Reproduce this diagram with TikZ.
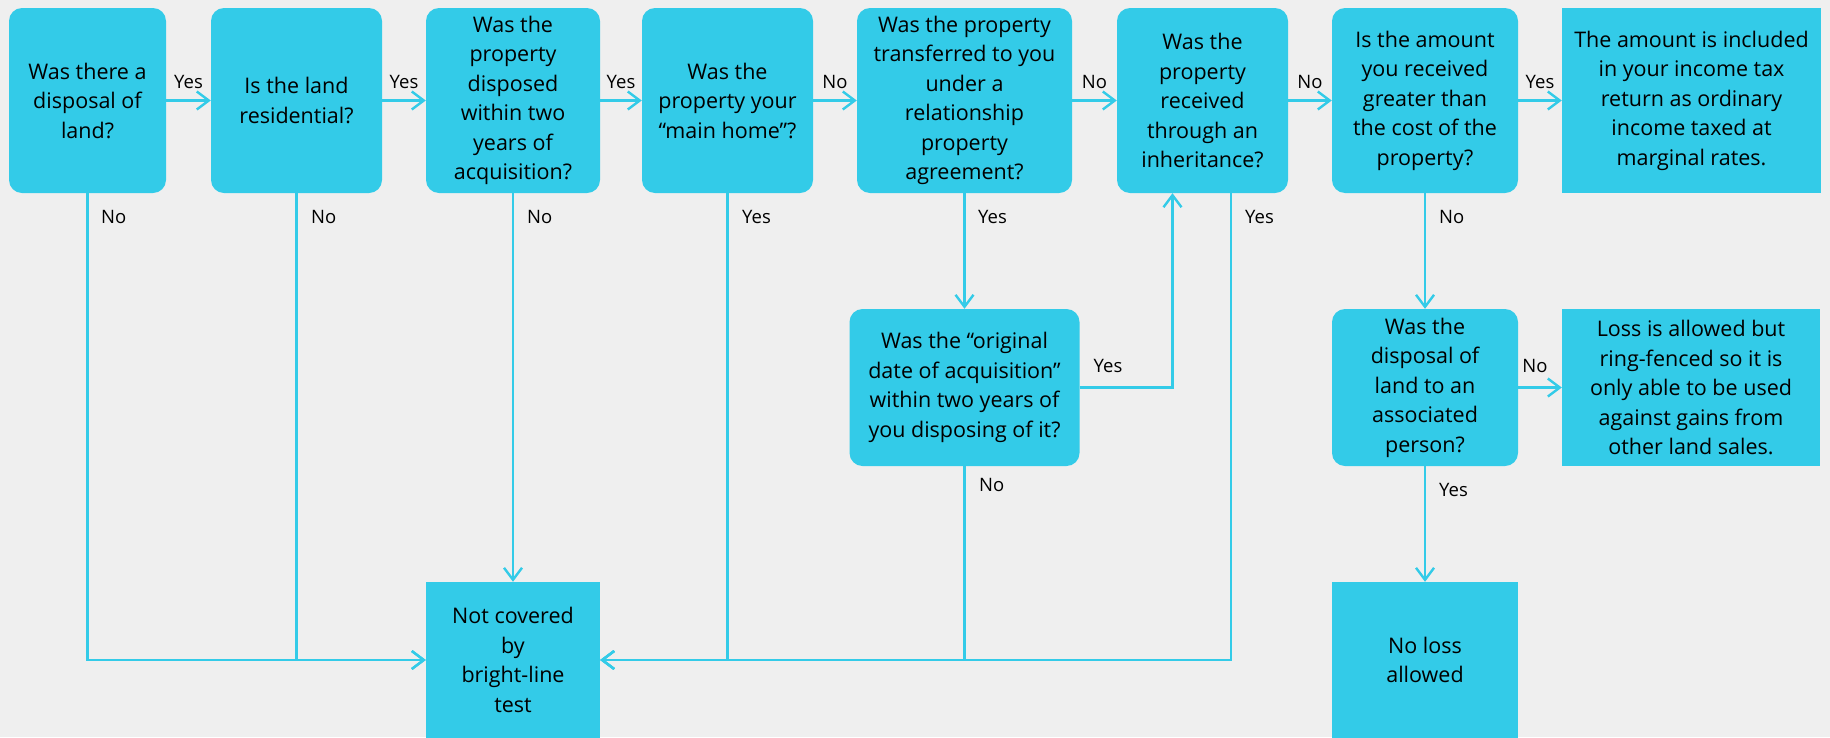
\documentclass[tikz,border=0pt]{standalone}
\usepackage{fontspec}
\setmainfont{Open Sans}
\usetikzlibrary{arrows.meta}
\definecolor{cy}{HTML}{33CBE8}
\definecolor{bg}{HTML}{EFEFEF}
\begin{document}
\begin{tikzpicture}[x=1pt,y=-1pt,
  q/.style={fill=cy, rounded corners=13pt, align=center, inner sep=0pt,
    font=\fontsize{21.5}{29.5}\selectfont},
  r/.style={fill=cy, align=center, inner sep=0pt,
    font=\fontsize{21.5}{29.5}\selectfont},
  lab/.style={font=\fontsize{18.5}{22}\selectfont, inner sep=0pt},
  ln/.style={draw=cy, line width=2.4pt},
  arr/.style={ln, -{Straight Barb[length=12pt,width=18pt,line width=2.4pt]}}]
\fill[bg] (0,0) rectangle (1830,737);
\useasboundingbox (0,0) rectangle (1830,737);

% top row
\node[q, minimum width=157pt, minimum height=185pt] (b1) at (87.5,100.5) {Was there a\\disposal of\\land?};
\node[q, minimum width=171pt, minimum height=185pt] (b2) at (296.5,100.5) {Is the land\\residential?};
\node[q, minimum width=174pt, minimum height=185pt] (b3) at (513,100.5) {Was the\\property\\disposed\\within two\\years of\\acquisition?};
\node[q, minimum width=171pt, minimum height=185pt] (b4) at (727.5,100.5) {Was the\\property your\\“main home”?};
\node[q, minimum width=215pt, minimum height=185pt] (b5) at (964.5,100.5) {Was the property\\transferred to you\\under a\\relationship\\property\\agreement?};
\node[q, minimum width=171pt, minimum height=185pt] (b6) at (1202.5,100.5) {Was the\\property\\received\\through an\\inheritance?};
\node[q, minimum width=186pt, minimum height=185pt] (b7) at (1425,100.5) {Is the amount\\you received\\greater than\\the cost of the\\property?};
\node[r, minimum width=259pt, minimum height=185pt] (b8) at (1691.5,100.5) {The amount is included\\in your income tax\\return as ordinary\\income taxed at\\marginal rates.};

% middle row
\node[q, minimum width=230pt, minimum height=157pt] (sub) at (964.5,387.5) {Was the “original\\date of acquisition”\\within two years of\\you disposing of it?};
\node[q, minimum width=186pt, minimum height=157pt] (as) at (1425,387.5) {Was the\\disposal of\\land to an\\associated\\person?};
\node[r, minimum width=258pt, minimum height=157pt] (loss) at (1691,387.5) {Loss is allowed but\\ring-fenced so it is\\only able to be used\\against gains from\\other land sales.};

% bottom row
\node[r, minimum width=174pt, minimum height=156pt] (nc) at (513,660) {Not covered\\by\\bright-line\\test};
\node[r, minimum width=186pt, minimum height=156pt] (nl) at (1425,660) {No loss\\allowed};

% horizontal chain
\draw[arr] (b1) -- (b2);
\draw[arr] (b2) -- (b3);
\draw[arr] (b3) -- (b4);
\draw[arr] (b4) -- (b5);
\draw[arr] (b5) -- (b6);
\draw[arr] (b6) -- (b7);
\draw[arr] (b7) -- (b8);
\node[lab] (y12) at (188.5,82) {Yes};
\node[lab] (y23) at (404,82) {Yes};
\node[lab] (y34) at (621,82) {Yes};
\node[lab] (n45) at (835,82) {No};
\node[lab] (n56) at (1094.5,82) {No};
\node[lab] (n67) at (1310,82) {No};
\node[lab] (y78) at (1540,82) {Yes};

% down to "not covered"
\draw[arr] (b1.south) |- (nc.west);
\draw[arr] (b2.south) |- (nc.west);
\draw[arr] (b3.south) -- (nc.north);
\draw[arr] (b4.south) |- (nc.east);
\draw[arr] (sub.south) |- (nc.east);
\coordinate (b6r) at ([xshift=28.5pt]b6.south);
\coordinate (b6l) at ([xshift=-30pt]b6.south);
\draw[arr] (b6r) |- (nc.east);
\draw[arr] (b5.south) -- (sub.north);
\draw[arr] (sub.east) -| (b6l);
\draw[arr] (b7.south) -- (as.north);
\draw[arr] (as) -- (loss);
\draw[arr] (as.south) -- (nl.north);

\node[lab, anchor=west] (nb1) at (101,217) {No};
\node[lab, anchor=west] (nb2) at (311,217) {No};
\node[lab, anchor=west] (nb3) at (527,217) {No};
\node[lab, anchor=west] (yb4) at (742,217) {Yes};
\node[lab, anchor=west] (yb5) at (978,217) {Yes};
\node[lab, anchor=west] (yb6) at (1245,217) {Yes};
\node[lab, anchor=west] (nb7) at (1439,217) {No};
\node[lab, anchor=west] (nsub) at (979,485) {No};
\node[lab, anchor=west] (yas) at (1439,490) {Yes};
\node[lab] (ysub) at (1108,366) {Yes};
\node[lab] (nas) at (1535,366) {No};
\end{tikzpicture}
\end{document}
